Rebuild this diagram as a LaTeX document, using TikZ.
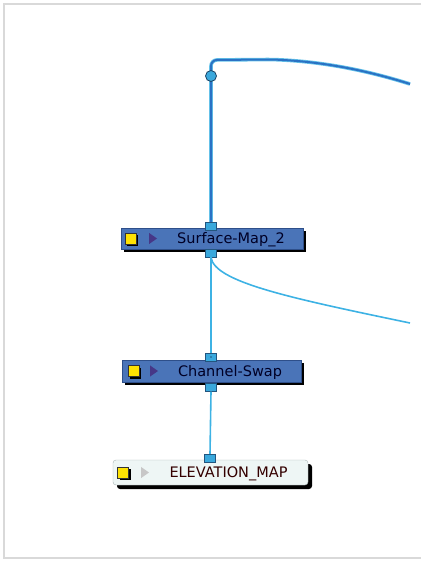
\documentclass[tikz,border=0pt]{standalone}
\usepackage{fontspec}
\setmainfont{DejaVu Sans}
\usetikzlibrary{positioning,shapes.geometric,shadows}

\definecolor{nodeblue}{HTML}{4A74B8}
\definecolor{nodeedge}{HTML}{2E4F8A}
\definecolor{nodepale}{HTML}{EEF6F5}
\definecolor{paleedge}{HTML}{A9B4B4}
\definecolor{wirelight}{HTML}{3DB2E4}
\definecolor{wiredark}{HTML}{2A72C4}
\definecolor{portfill}{HTML}{3AA8DC}
\definecolor{portedge}{HTML}{23557E}
\definecolor{framegray}{HTML}{D9D9D9}

\begin{document}
\begin{tikzpicture}[x=1pt, y=-1pt,
    module/.style={draw=nodeedge, fill=nodeblue, inner sep=0pt, minimum height=21pt,
        drop shadow={shadow xshift=3pt, shadow yshift=-3pt, fill=black, opacity=1}},
    palemodule/.style={draw=paleedge, fill=nodepale, inner sep=0pt, minimum height=25pt,
        rounded corners=3pt,
        drop shadow={shadow xshift=4pt, shadow yshift=-4pt, fill=black, opacity=1}},
    enable/.style={draw=black!80, fill=yellow!85!orange, minimum size=11pt, inner sep=0pt,
        drop shadow={shadow xshift=2pt, shadow yshift=-2pt, fill=black, opacity=1}},
    arrowtri/.style={isosceles triangle, isosceles triangle apex angle=70, fill=#1,
        inner sep=0pt, minimum height=8pt, minimum width=10pt},
    title/.style={font=\fontsize{14.5}{17}\selectfont, text=#1, inner sep=0pt},
    port/.style={draw=portedge, fill=portfill, minimum width=11pt, minimum height=8pt, inner sep=0pt},
    thinwire/.style={wirelight, line width=1.6pt},
    thickwire/.style={line width=#1, rounded corners=6pt},
]
\useasboundingbox (0,0) rectangle (421,561);

% Frame of the view
\draw[framegray, line width=2pt] (421,4) -- (4,4) -- (4,558) -- (421,558);

% Surface-Map_2 module
\node[module, minimum width=182pt] (surf) at (212,238.5) {};
\node[enable, right=4pt of surf.west] (surfon) {};
\node[arrowtri=nodeedge!70!violet, right=28pt of surf.west] (surftri) {};
\node[title=black!85!blue] (surftxt) at (231,240) {Surface-Map\_2};
\node[port] (surfin) at (211,226) {};
\node[port] (surfout) at (211,253) {};

% Channel-Swap module
\node[module, minimum width=179pt, minimum height=22pt] (swap) at (211.5,371) {};
\node[enable, right=6pt of swap.west] (swapon) {};
\node[arrowtri=nodeedge!70!violet, right=28pt of swap.west] (swaptri) {};
\node[title=black!85!blue] (swaptxt) at (230,372.5) {Channel-Swap};
\node[port] (swapin) at (211,357) {};
\fill[portedge] (swapin.center) circle (0.8pt);
\node[port] (swapout) at (211,387.5) {};

% ELEVATION_MAP module
\node[palemodule, minimum width=195pt] (elev) at (210.5,472.5) {};
\node[enable, right=4.5pt of elev.west] (elevon) {};
\node[arrowtri=black!22, right=28pt of elev.west] (elevtri) {};
\node[title=black!80!red] (elevtxt) at (228.5,473.5) {ELEVATION\_MAP};
\node[port] (elevin) at (210,458) {};

% Thick wire leaving the top of the view
\coordinate (topbend) at (211,60);
\coordinate (topflat) at (272,59.5);
\coordinate (topedge) at (410,84);
\draw[thickwire=3.6pt, wirelight!80!white] (surfin.north) -- (topbend) -- (topflat) .. controls (330,62) and (375,73) .. (topedge);
\draw[thickwire=2pt, wiredark] (surfin.north) -- (topbend) -- (topflat) .. controls (330,62) and (375,73) .. (topedge);
\node[circle, draw=portedge!80!black, fill=portfill, minimum size=11pt, inner sep=0pt, line width=0.8pt] (joint) at (211,76) {};

% Thin wires
\coordinate (sideedge) at (410,323);
\draw[thinwire] (surfout.south) -- (swapin.north);
\draw[thinwire] (surfout.south) .. controls (214,282) and (290,298) .. (sideedge);
\draw[thinwire] (swapout.south) -- (elevin.north);

\end{tikzpicture}
\end{document}
